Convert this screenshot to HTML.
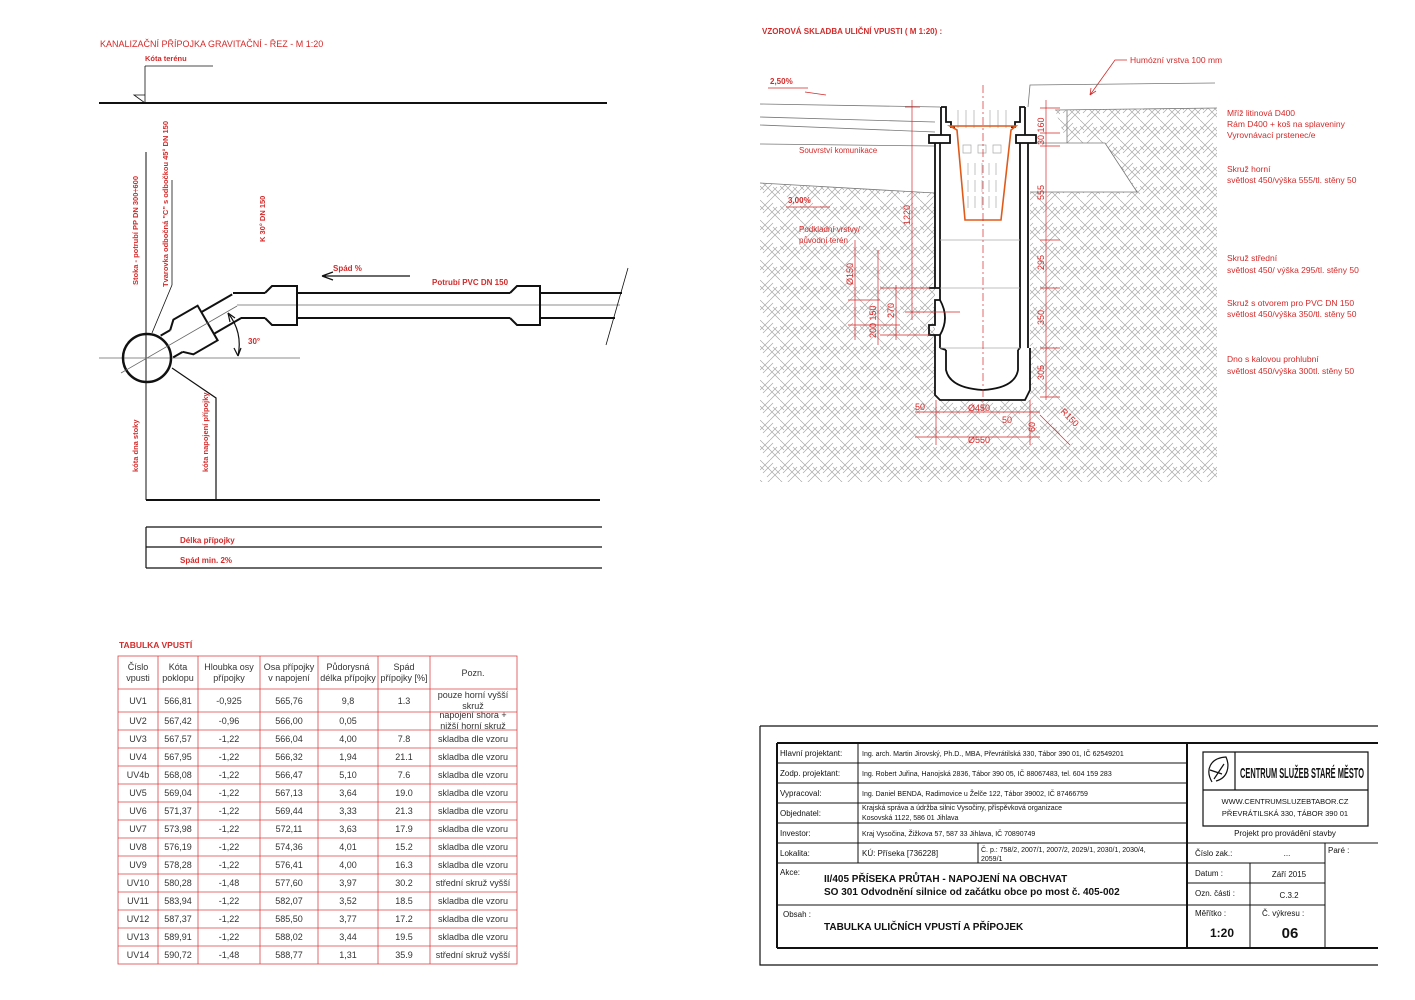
<!DOCTYPE html>
<html><head><meta charset="utf-8">
<style>
html,body{margin:0;padding:0;background:#fff;}
svg{display:block;font-family:"Liberation Sans",Arial,sans-serif;}
.r{fill:#d42a2a;}
.rb{fill:#d42a2a;font-weight:bold;}
.k{fill:#111;}
.tb{font-size:9px;fill:#333;text-anchor:middle;}
</style></head><body>
<svg width="1415" height="1000" viewBox="0 0 1415 1000" xmlns="http://www.w3.org/2000/svg">
<defs>
<pattern id="h" width="20" height="20" patternUnits="userSpaceOnUse">
<g stroke="#a8a8a8" stroke-width="0.7" fill="none">
<path d="M0,10 L10,0 M3,13 L13,3 M10,20 L20,10 M7,17 L17,7"/>
<path d="M10,10 L20,20 M13,7 L20,14 M0,0 L10,10 M0,6 L4,10"/>
</g>
</pattern>
</defs>
<rect width="1415" height="1000" fill="#fff"/>

<!-- ================= LEFT DRAWING ================= -->
<text x="100" y="47" class="r" font-size="9">KANALIZAČNÍ PŘÍPOJKA GRAVITAČNÍ - ŘEZ - M 1:20</text>
<text x="145" y="61" class="rb" font-size="7.5">Kóta terénu</text>
<g stroke="#111" fill="none">
<path d="M145,66 L213,66 M145,66 L145,103 M134,95 L145,95 L145,103 Z" stroke-width="0.8"/>
<line x1="99" y1="103" x2="607" y2="103" stroke-width="2"/>
<line x1="146" y1="152" x2="146" y2="500" stroke-width="1"/>
<line x1="99" y1="358" x2="300" y2="358" stroke="#666" stroke-width="0.8"/>
<line x1="172" y1="180" x2="172" y2="285" stroke-width="0.8"/>
<line x1="172" y1="285" x2="152" y2="333" stroke-width="0.8"/>
<circle cx="147" cy="358" r="24" stroke-width="2.5"/>
<!-- angled pipe in local frame -->
<g transform="translate(147,358) rotate(-30)">
<path d="M23,-12.5 L34,-12.5 M70,-12.5 L105.6,-12.5 M23,12.5 L34,12.5 M70,12.5 L101.6,12.5" stroke-width="2"/>
<path d="M34,-12.5 L42,-20 L70,-20 L70,20 L42,20 L34,12.5" stroke-width="2"/>
<line x1="-30" y1="0" x2="104" y2="0" stroke="#666" stroke-width="0.8"/>
</g>
<!-- horizontal pipe -->
<path d="M233,293 L265,293 M241,318 L265,318" stroke-width="2"/>
<path d="M297,293 L510,293 M297,318 L510,318 M540,293 L622,293 M540,318 L615,318" stroke-width="2"/>
<line x1="237" y1="305" x2="620" y2="305" stroke="#666" stroke-width="0.8"/>
<path d="M265,293 L272,286 L297,286 L297,325 L272,325 L265,318" stroke-width="2"/>
<path d="M510,293 L517,286 L540,286 L540,325 L517,325 L510,318" stroke-width="2"/>
<line x1="628" y1="268" x2="606" y2="345" stroke-width="0.8"/>
<!-- arc -->
<path d="M228,313 Q243,332 238,356" stroke-width="1.2"/>
<path d="M228,313 L230,322 M228,313 L235,318 M238,356 L234,348 M238,356 L241,348" stroke-width="1.2"/>
<!-- spad arrow -->
<path d="M410,276 L322,276 M322,276 L333,272 M322,276 L333,280" stroke-width="1.2"/>
<!-- lower lines -->
<path d="M172,368 L216,398 L216,500" stroke-width="1.2"/>
<line x1="146" y1="500" x2="600" y2="500" stroke-width="2"/>
<path d="M146,527 L602,527 M146,547 L602,547 M146,568 L602,568 M146,527 L146,568" stroke-width="1.2"/>
</g>
<text x="333" y="271" class="rb" font-size="8">Spád %</text>
<text x="432" y="285" class="rb" font-size="8">Potrubí PVC DN 150</text>
<text x="248" y="344" class="rb" font-size="8">30°</text>
<text x="180" y="543" class="rb" font-size="8">Délka přípojky</text>
<text x="180" y="563" class="rb" font-size="8">Spád min. 2%</text>
<text transform="translate(138,285) rotate(-90)" class="rb" font-size="7.5">Stoka - potrubí PP DN 300÷600</text>
<text transform="translate(168,287) rotate(-90)" class="rb" font-size="7.5">Tvarovka odbočná "C" s odbočkou 45° DN 150</text>
<text transform="translate(265,242) rotate(-90)" class="rb" font-size="7.5">K 30° DN 150</text>
<text transform="translate(138,472) rotate(-90)" class="rb" font-size="7.5">kóta dna stoky</text>
<text transform="translate(208,472) rotate(-90)" class="rb" font-size="7.5">kóta napojení přípojky</text>

<!-- ================= RIGHT DRAWING ================= -->
<text x="762" y="34" class="rb" font-size="8">VZOROVÁ SKLADBA ULIČNÍ VPUSTI ( M  1:20) :</text>
<polygon points="760,183 935,193 935,482 760,482" fill="url(#h)"/>
<polygon points="935,400 1030,400 1030,482 935,482" fill="url(#h)"/>
<polygon points="1030,192 1217,192 1217,482 1030,482" fill="url(#h)"/>
<polygon points="1055,110 1217,108 1217,192 1137,192 1105,143 1067,143" fill="url(#h)"/>
<g stroke="#777" stroke-width="0.8" fill="none">
<path d="M760,104 L940,107 M760,117 L935,122 M760,125 L935,132 M760,144 L935,146 M760,183 L935,193"/>
<path d="M1028,107 L1030,85 L1215,83 M1055,110 L1217,108 M1030,143 L1105,143 L1137,192 L1030,192 M1067,110 L1067,143"/>
</g>
<!-- shaft -->
<g stroke="#111" stroke-width="1.8" fill="none">
<path d="M941,107 L946,107 L946,122 L951,122 L951,127 L955,127"/>
<path d="M1025,107 L1020,107 L1020,122 L1015,122 L1015,127 L1011,127"/>
<rect x="929" y="135" width="21" height="8"/>
<rect x="1016" y="135" width="20" height="8"/>
<path d="M941,107 L941,135 M1025,107 L1025,135"/>
<path d="M935,143 L935,288 M940,143 L940,288 M1028,143 L1028,348 M1020,143 L1020,348"/>
<path d="M929,288 L940,288 L940,300 L935,300 L935,325 L929,325 L929,335 L940,335 L940,348"/>
<path d="M940,300 Q950,318 940,335"/>
<path d="M935,335 L935,395 L940,400 L1025,400 L1030,390 L1030,348"/>
<path d="M946,350 L946,370 Q950,388 983,390 Q1015,388 1018,370 L1018,350"/>
<path d="M940,348 L946,350 M1020,348 L1018,350"/>
</g>
<g stroke="#aaa" stroke-width="0.7" fill="none">
<path d="M940,240 L1020,240 M940,288 L1020,288 M940,348 L1020,348"/>
<path d="M958,110 v18 M966,110 v18 M974,110 v18 M990,110 v18 M998,110 v18 M1006,110 v18"/>
<path d="M963,145 h8 v8 h-8z M978,145 h8 v8 h-8z M993,145 h8 v8 h-8z M968,163 v12 M975,163 v12 M982,163 v12 M989,163 v12 M996,163 v12 M968,180 v12 M975,180 v12 M982,180 v12 M989,180 v12 M996,180 v12 M968,196 v12 M975,196 v12 M982,196 v12 M989,196 v12 M996,196 v12"/>
</g>
<path d="M950,126 L1016,126 L1011,130 L1001,220 L965,220 L957,130 Z" fill="none" stroke="#e05a1a" stroke-width="1.6"/>
<g stroke="#d42a2a" stroke-width="0.7" fill="none">
<path d="M983,85 L983,410" stroke-dasharray="8,3,2,3"/>
<path d="M912,100 L912,320 M905,107 L920,107 M905,312 L960,312"/>
<path d="M1046,100 L1046,400 M1040,108 L1060,108 M1040,133 L1060,133 M1040,146 L1060,146 M1040,240 L1060,240 M1040,288 L1060,288 M1040,348 L1060,348 M1040,397 L1060,397"/>
<path d="M855,240 L855,340 M878,250 L878,345 M896,285 L896,340 M848,300 L880,300 M848,325 L900,325 M880,288 L930,288 M880,335 L930,335"/>
<path d="M915,412 L1040,412 M915,437 L1040,437 M936,400 L936,445 M1030,400 L1030,445 M1040,415 L1070,445"/>
</g>
<text x="799" y="153" class="r" font-size="8">Souvrství komunikace</text>
<text x="799" y="232" class="r" font-size="8">Podkladní vrstvy/</text>
<text x="799" y="243" class="r" font-size="8">původní terén</text>
<text x="770" y="84" class="rb" font-size="8">2,50%</text>
<text x="788" y="203" class="rb" font-size="8">3,00%</text>
<path d="M768,88 L808,88 M805,92 L826,95 M786,207 L830,207" stroke="#d42a2a" stroke-width="0.8"/>
<text x="1130" y="63" class="r" font-size="8.5">Humózní vrstva 100 mm</text>
<path d="M1127,60 L1115,60 L1090,95 M1090,95 L1091,88 M1090,95 L1096,91" stroke="#d42a2a" stroke-width="0.8" fill="none"/>
<g class="r" font-size="8.5">
<text x="1227" y="116">Mříž litinová D400</text>
<text x="1227" y="127">Rám D400 + koš na splaveniny</text>
<text x="1227" y="138">Vyrovnávací prstenec/e</text>
<text x="1227" y="172">Skruž horní</text>
<text x="1227" y="183">světlost 450/výška 555/tl. stěny 50</text>
<text x="1227" y="261">Skruž střední</text>
<text x="1227" y="273">světlost 450/ výška 295/tl. stěny 50</text>
<text x="1227" y="306">Skruž s otvorem pro PVC DN 150</text>
<text x="1227" y="317">světlost 450/výška 350/tl. stěny 50</text>
<text x="1227" y="362">Dno s kalovou prohlubní</text>
<text x="1227" y="374">světlost 450/výška 300tl. stěny 50</text>
</g>
<g class="r" font-size="9">
<text transform="translate(1044,145) rotate(-90)">30 160</text>
<text transform="translate(1044,200) rotate(-90)">555</text>
<text transform="translate(1044,270) rotate(-90)">295</text>
<text transform="translate(1044,325) rotate(-90)">350</text>
<text transform="translate(1044,380) rotate(-90)">305</text>
<text transform="translate(910,225) rotate(-90)">1220</text>
<text transform="translate(853,285) rotate(-90)">Ø150</text>
<text transform="translate(876,338) rotate(-90)">200 150</text>
<text transform="translate(894,318) rotate(-90)">270</text>
<text x="915" y="410">50</text>
<text x="968" y="411">Ø450</text>
<text x="1002" y="423">50</text>
<text x="968" y="443">Ø550</text>
<text transform="translate(1035,432) rotate(-90)">60</text>
<text transform="translate(1060,412) rotate(45)">R150</text>
</g>

<!-- ================= TABLE ================= -->
<text x="119" y="648" class="rb" font-size="8.5">TABULKA VPUSTÍ</text>
<g stroke="#d44" stroke-width="0.8" fill="none">
<rect x="118" y="656" width="399" height="308"/>
<path d="M158,656V964 M198,656V964 M260,656V964 M318,656V964 M378,656V964 M430,656V964"/>
<path d="M118,689H517 M118,712H517 M118,730H517 M118,748H517 M118,766H517 M118,784H517 M118,802H517 M118,820H517 M118,838H517 M118,856H517 M118,874H517 M118,892H517 M118,910H517 M118,928H517 M118,946H517"/>
</g>
<g class="tb">
<text x="138" y="670">Číslo</text><text x="138" y="681">vpusti</text>
<text x="178" y="670">Kóta</text><text x="178" y="681">poklopu</text>
<text x="229" y="670">Hloubka osy</text><text x="229" y="681">přípojky</text>
<text x="289" y="670">Osa přípojky</text><text x="289" y="681">v napojení</text>
<text x="348" y="670">Půdorysná</text><text x="348" y="681">délka přípojky</text>
<text x="404" y="670">Spád</text><text x="404" y="681">přípojky [%]</text>
<text x="473" y="676">Pozn.</text>
<text x="138" y="704">UV1</text><text x="178" y="704">566,81</text><text x="229" y="704">-0,925</text><text x="289" y="704">565,76</text><text x="348" y="704">9,8</text><text x="404" y="704">1.3</text><text x="473" y="698">pouze horní vyšší</text><text x="473" y="709">skruž</text>
<text x="138" y="724">UV2</text><text x="178" y="724">567,42</text><text x="229" y="724">-0,96</text><text x="289" y="724">566,00</text><text x="348" y="724">0,05</text><text x="473" y="718">napojení shora +</text><text x="473" y="729">nižší horní skruž</text>
<text x="138" y="742">UV3</text><text x="178" y="742">567,57</text><text x="229" y="742">-1,22</text><text x="289" y="742">566,04</text><text x="348" y="742">4,00</text><text x="404" y="742">7.8</text><text x="473" y="742">skladba dle vzoru</text>
<text x="138" y="760">UV4</text><text x="178" y="760">567,95</text><text x="229" y="760">-1,22</text><text x="289" y="760">566,32</text><text x="348" y="760">1,94</text><text x="404" y="760">21.1</text><text x="473" y="760">skladba dle vzoru</text>
<text x="138" y="778">UV4b</text><text x="178" y="778">568,08</text><text x="229" y="778">-1,22</text><text x="289" y="778">566,47</text><text x="348" y="778">5,10</text><text x="404" y="778">7.6</text><text x="473" y="778">skladba dle vzoru</text>
<text x="138" y="796">UV5</text><text x="178" y="796">569,04</text><text x="229" y="796">-1,22</text><text x="289" y="796">567,13</text><text x="348" y="796">3,64</text><text x="404" y="796">19.0</text><text x="473" y="796">skladba dle vzoru</text>
<text x="138" y="814">UV6</text><text x="178" y="814">571,37</text><text x="229" y="814">-1,22</text><text x="289" y="814">569,44</text><text x="348" y="814">3,33</text><text x="404" y="814">21.3</text><text x="473" y="814">skladba dle vzoru</text>
<text x="138" y="832">UV7</text><text x="178" y="832">573,98</text><text x="229" y="832">-1,22</text><text x="289" y="832">572,11</text><text x="348" y="832">3,63</text><text x="404" y="832">17.9</text><text x="473" y="832">skladba dle vzoru</text>
<text x="138" y="850">UV8</text><text x="178" y="850">576,19</text><text x="229" y="850">-1,22</text><text x="289" y="850">574,36</text><text x="348" y="850">4,01</text><text x="404" y="850">15.2</text><text x="473" y="850">skladba dle vzoru</text>
<text x="138" y="868">UV9</text><text x="178" y="868">578,28</text><text x="229" y="868">-1,22</text><text x="289" y="868">576,41</text><text x="348" y="868">4,00</text><text x="404" y="868">16.3</text><text x="473" y="868">skladba dle vzoru</text>
<text x="138" y="886">UV10</text><text x="178" y="886">580,28</text><text x="229" y="886">-1,48</text><text x="289" y="886">577,60</text><text x="348" y="886">3,97</text><text x="404" y="886">30.2</text><text x="473" y="886">střední skruž vyšší</text>
<text x="138" y="904">UV11</text><text x="178" y="904">583,94</text><text x="229" y="904">-1,22</text><text x="289" y="904">582,07</text><text x="348" y="904">3,52</text><text x="404" y="904">18.5</text><text x="473" y="904">skladba dle vzoru</text>
<text x="138" y="922">UV12</text><text x="178" y="922">587,37</text><text x="229" y="922">-1,22</text><text x="289" y="922">585,50</text><text x="348" y="922">3,77</text><text x="404" y="922">17.2</text><text x="473" y="922">skladba dle vzoru</text>
<text x="138" y="940">UV13</text><text x="178" y="940">589,91</text><text x="229" y="940">-1,22</text><text x="289" y="940">588,02</text><text x="348" y="940">3,44</text><text x="404" y="940">19.5</text><text x="473" y="940">skladba dle vzoru</text>
<text x="138" y="958">UV14</text><text x="178" y="958">590,72</text><text x="229" y="958">-1,48</text><text x="289" y="958">588,77</text><text x="348" y="958">1,31</text><text x="404" y="958">35.9</text><text x="473" y="958">střední skruž vyšší</text>
</g>

<!-- ================= TITLE BLOCK ================= -->
<g stroke="#111" fill="none">
<path d="M760,726 L1378,726 M760,726 L760,965 L1378,965" stroke-width="1.2"/>
<path d="M777,743 L1378,743 M777,948 L1378,948 M777,743 L777,948 M1187,743 L1187,948" stroke-width="2"/>
<path d="M777,763H1187 M777,783H1187 M777,803H1187 M777,823H1187 M777,843H1187 M777,863H1187 M777,905H1187 M858,743V863 M978,843V863" stroke-width="1"/>
<path d="M1187,843H1378 M1187,863H1325 M1187,883H1325 M1187,905H1325 M1250,863V948 M1325,843V948" stroke-width="1"/>
<path d="M1203,752 H1368 V826 H1203 Z M1203,790 H1368 M1235,752 V790" stroke-width="1.2"/>
<path d="M1212,782 C1205,770 1210,758 1226,757 C1230,766 1228,778 1216,781 M1214,779 L1224,764 M1210,770 L1222,774" stroke-width="1.2"/>
</g>
<g class="k" font-size="8">
<text x="780" y="756">Hlavní projektant:</text>
<text x="780" y="776">Zodp. projektant:</text>
<text x="780" y="796">Vypracoval:</text>
<text x="780" y="816">Objednatel:</text>
<text x="780" y="836">Investor:</text>
<text x="780" y="856">Lokalita:</text>
<text x="780" y="875">Akce:</text>
<text x="783" y="917">Obsah :</text>
</g>
<g class="k" font-size="7">
<text x="862" y="756">Ing. arch. Martin Jirovský, Ph.D., MBA, Převrátilská 330, Tábor 390 01, IČ 62549201</text>
<text x="862" y="776">Ing. Robert Juřina, Hanojská 2836, Tábor 390 05, IČ 88067483, tel. 604 159 283</text>
<text x="862" y="796">Ing. Daniel BENDA, Radimovice u Želče 122, Tábor 39002, IČ 87466759</text>
<text x="862" y="810">Krajská správa a údržba silnic Vysočiny, příspěvková organizace</text>
<text x="862" y="820">Kosovská 1122, 586 01 Jihlava</text>
<text x="862" y="836">Kraj Vysočina, Žižkova 57, 587 33 Jihlava, IČ 70890749</text>
<text x="981" y="852">Č. p.: 758/2, 2007/1, 2007/2, 2029/1, 2030/1, 2030/4,</text>
<text x="981" y="861">2059/1</text>
</g>
<text x="862" y="856" class="k" font-size="8">KÚ: Příseka [736228]</text>
<text x="824" y="882" class="k" font-size="10" font-weight="bold">II/405 PŘÍSEKA PRŮTAH - NAPOJENÍ NA OBCHVAT</text>
<text x="824" y="895" class="k" font-size="10" font-weight="bold">SO 301 Odvodnění silnice od začátku obce po most č. 405-002</text>
<text x="824" y="930" class="k" font-size="10" font-weight="bold">TABULKA ULIČNÍCH VPUSTÍ A PŘÍPOJEK</text>
<text x="1240" y="778" class="k" font-size="15" font-weight="bold" textLength="124" lengthAdjust="spacingAndGlyphs">CENTRUM SLUŽEB STARÉ MĚSTO</text>
<text x="1285" y="804" class="k" font-size="7.5" text-anchor="middle">WWW.CENTRUMSLUZEBTABOR.CZ</text>
<text x="1285" y="816" class="k" font-size="7.5" text-anchor="middle">PŘEVRÁTILSKÁ 330, TÁBOR 390 01</text>
<text x="1285" y="836" class="k" font-size="8" text-anchor="middle">Projekt pro provádění stavby</text>
<g class="k" font-size="8">
<text x="1195" y="856">Číslo zak.:</text><text x="1287" y="856" text-anchor="middle">...</text>
<text x="1328" y="853">Paré :</text>
<text x="1195" y="876">Datum :</text><text x="1289" y="877" text-anchor="middle">Září 2015</text>
<text x="1195" y="896">Ozn. části :</text><text x="1289" y="898" text-anchor="middle">C.3.2</text>
<text x="1195" y="916">Měřítko :</text><text x="1262" y="916">Č. výkresu :</text>
</g>
<text x="1222" y="937" class="k" font-size="12" font-weight="bold" text-anchor="middle">1:20</text>
<text x="1290" y="938" class="k" font-size="15" font-weight="bold" text-anchor="middle">06</text>
</svg>
</body></html>
